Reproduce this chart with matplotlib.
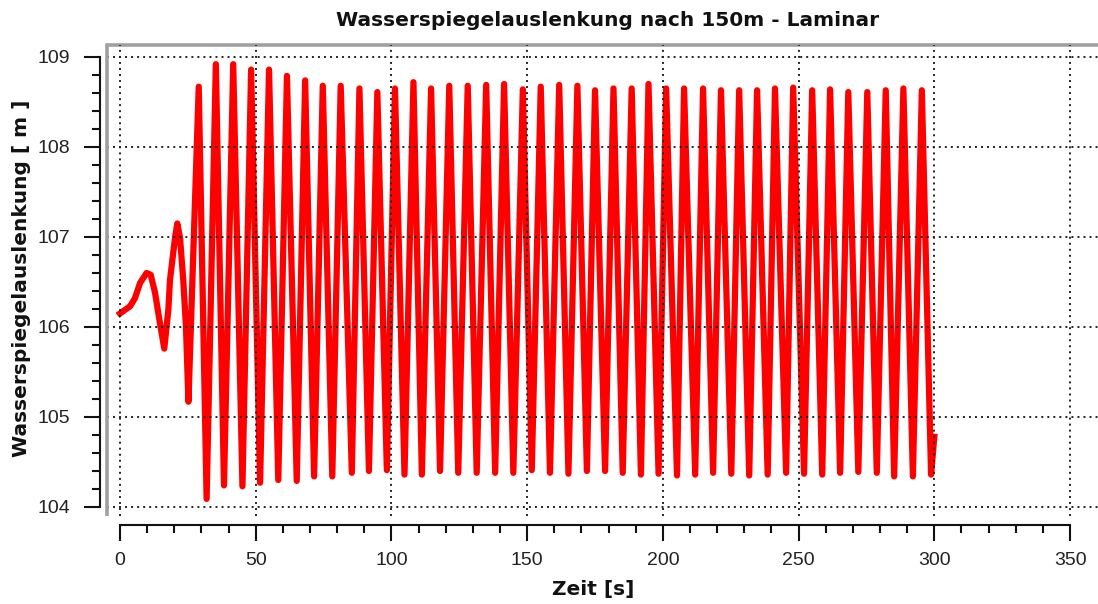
import matplotlib
matplotlib.use('Agg')
import matplotlib.pyplot as plt
import numpy as np

# Anlaufphase (Zeit in s, Wasserspiegel in m)
start_t = [0.0, 1.8, 3.7, 5.5, 7.4, 9.8, 11.3, 12.9, 14.5, 16.3, 17.8, 18.4,
           20.3, 21.1, 22.1, 23.3, 24.3, 25.2]
start_v = [106.15, 106.19, 106.23, 106.32, 106.49, 106.60, 106.58, 106.38,
           106.08, 105.76, 106.19, 106.52, 107.00, 107.15, 106.99, 106.52,
           106.00, 105.17]

# Maxima der Schwingung
peak_t = [29.0, 35.3, 41.7, 48.3, 54.9, 61.5, 68.2, 74.7, 81.3, 88.2,
          94.8, 101.3, 108.1, 114.6, 121.3, 128.1, 134.9, 141.5, 148.4, 155.0,
          161.8, 168.5, 175.0, 181.8, 188.5, 194.7, 201.2, 207.8, 214.8, 221.4,
          228.1, 234.7, 241.3, 248.0, 255.0, 261.6, 268.3, 275.3, 282.1, 288.6,
          295.4]
peak_v = [108.67, 108.92, 108.92, 108.86, 108.86, 108.79, 108.74, 108.68, 108.68,
          108.65, 108.61, 108.65, 108.72, 108.65, 108.68, 108.68, 108.69, 108.70,
          108.64, 108.67, 108.69, 108.68, 108.63, 108.65, 108.65, 108.70,
          108.65, 108.65, 108.65, 108.63, 108.63, 108.63, 108.65, 108.66,
          108.63, 108.64, 108.61, 108.61, 108.63, 108.65, 108.63]

# Minima der Schwingung
trough_t = [31.9, 38.3, 45.1, 51.6, 58.3, 65.1, 71.5, 78.2, 85.4, 91.7,
            98.3, 104.8, 111.2, 117.9, 124.6, 131.4, 138.2, 144.9, 151.7, 158.4,
            165.2, 172.0, 178.7, 185.2, 191.9, 198.4, 205.2, 211.9, 218.5, 225.2,
            231.8, 238.6, 245.4, 252.0, 258.7, 265.3, 272.0, 278.8, 285.2, 292.1,
            298.8]
trough_v = [104.09, 104.24, 104.23, 104.27, 104.30, 104.29, 104.34, 104.34,
            104.38, 104.40, 104.41, 104.36, 104.36, 104.40, 104.38, 104.38,
            104.38, 104.38, 104.41, 104.38, 104.37, 104.40, 104.40, 104.38,
            104.36, 104.37, 104.35, 104.36, 104.38, 104.37, 104.35, 104.36,
            104.38, 104.37, 104.36, 104.38, 104.39, 104.38, 104.34, 104.34,
            104.36]

end_t = [300.0]
end_v = [104.78]

x_ticks = [0, 50, 100, 150, 200, 250, 300, 350]
y_ticks = [104, 105, 106, 107, 108, 109]

# Zeitreihe zusammensetzen
t = np.concatenate([start_t, peak_t, trough_t, end_t])
v = np.concatenate([start_v, peak_v, trough_v, end_v])
order = np.argsort(t)
t, v = t[order], v[order]

W, H = 1098, 604
fig = plt.figure(figsize=(W / 100, H / 100), dpi=100)
ax = fig.add_axes([107 / W, 1 - 516 / H, 1 - 107 / W, (516 - 45) / H])

ax.plot(t, v, color='#ff0000', lw=4.5, solid_joinstyle='round', zorder=2)

ax.set_xlim(-4.8, 360.3)
ax.set_ylim(103.9, 109.133)

ax.set_xticks(x_ticks)
ax.set_yticks(y_ticks)
ax.set_xticks(np.arange(0, 351, 10), minor=True)
ax.set_yticks(np.arange(104, 109.01, 0.2), minor=True)

ax.set_axisbelow(False)
ax.grid(True, which='major', color='#222222', lw=1.4, linestyle=(0, (1, 2.1)))

# abgesetzte Achsen
ax.spines['left'].set_position(('outward', 5))
ax.spines['left'].set_bounds(104, 109)
ax.spines['bottom'].set_position(('outward', 6.5))
ax.spines['bottom'].set_bounds(0, 350)
for s in ['left', 'bottom']:
    ax.spines[s].set_color('#111111')
    ax.spines[s].set_linewidth(1.5)
ax.spines['right'].set_visible(False)
ax.spines['top'].set_color('#a0a0a0')
ax.spines['top'].set_linewidth(2.6)

# grauer Rahmen links
ax.plot([0, 0], [0, 1], transform=ax.transAxes, color='#a0a0a0', lw=2.6,
        clip_on=False, solid_capstyle='butt', zorder=3)

ax.tick_params(which='major', direction='out', length=11.5, width=1.5,
               color='#111111', labelsize=14, labelcolor='#222222', pad=8)
ax.tick_params(axis='y', which='major', pad=10)
ax.tick_params(which='minor', direction='out', length=5.5, width=1.5,
               color='#111111')
for lab in ax.get_xticklabels() + ax.get_yticklabels():
    lab.set_fontfamily('Liberation Sans')

fig.text(608 / W, 1 - 20 / H, 'Wasserspiegelauslenkung nach 150m - Laminar',
         ha='center', va='center', fontsize=14.5, fontweight='bold', color='#111111')
fig.text(593 / W, 1 - 590 / H, 'Zeit [s]', ha='center', va='center',
         fontsize=14.5, fontweight='bold', color='#111111')
fig.text(22 / W, 1 - 278 / H, 'Wasserspiegelauslenkung [ m ]', ha='center',
         va='center', rotation=90, fontsize=14.5, fontweight='bold', color='#111111')

fig.savefig('out.png', dpi=100)
